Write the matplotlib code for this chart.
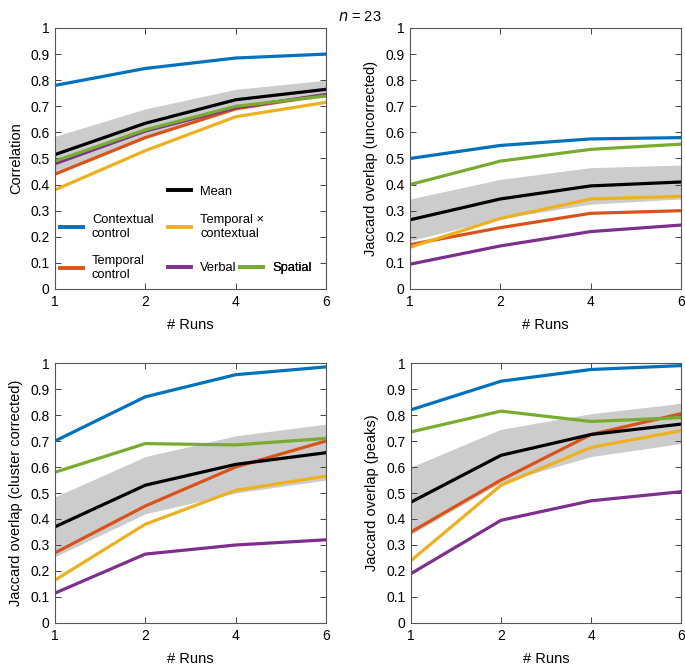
import numpy as np
import matplotlib
matplotlib.use("Agg")
import matplotlib.pyplot as plt
from matplotlib.lines import Line2D

plt.rcParams['font.family'] = ['Liberation Sans', 'DejaVu Sans']

runs = ["1", "2", "4", "6"]
ylabels = ["Correlation", "Jaccard overlap (uncorrected)",
           "Jaccard overlap (cluster corrected)", "Jaccard overlap (peaks)"]

# one row per panel
contextual = [[0.78, 0.845, 0.885, 0.90],
              [0.50, 0.55, 0.575, 0.58],
              [0.70, 0.87, 0.955, 0.985],
              [0.82, 0.93, 0.975, 0.99]]
temporal = [[0.44, 0.58, 0.69, 0.745],
            [0.17, 0.235, 0.29, 0.30],
            [0.27, 0.45, 0.60, 0.70],
            [0.35, 0.55, 0.725, 0.805]]
temp_ctx = [[0.38, 0.53, 0.66, 0.715],
            [0.16, 0.27, 0.345, 0.355],
            [0.165, 0.38, 0.51, 0.565],
            [0.24, 0.53, 0.675, 0.74]]
verbal = [[0.48, 0.605, 0.695, 0.745],
          [0.095, 0.165, 0.22, 0.245],
          [0.115, 0.265, 0.30, 0.32],
          [0.19, 0.395, 0.47, 0.505]]
spatial = [[0.49, 0.61, 0.70, 0.74],
           [0.40, 0.49, 0.535, 0.555],
           [0.58, 0.69, 0.685, 0.71],
           [0.735, 0.815, 0.775, 0.79]]
mean = [[0.515, 0.635, 0.725, 0.765],
        [0.265, 0.345, 0.395, 0.41],
        [0.37, 0.53, 0.61, 0.655],
        [0.465, 0.645, 0.725, 0.765]]
shade_hi = [[0.585, 0.69, 0.765, 0.80],
            [0.345, 0.42, 0.465, 0.475],
            [0.485, 0.64, 0.72, 0.765],
            [0.60, 0.745, 0.805, 0.845]]
shade_lo = [[0.45, 0.58, 0.69, 0.735],
            [0.185, 0.27, 0.325, 0.345],
            [0.255, 0.42, 0.50, 0.55],
            [0.34, 0.54, 0.64, 0.69]]

c_blue = '#0072BD'
c_red = '#D95319'
c_yel = '#EDB120'
c_pur = '#7E2F8E'
c_grn = '#77AC30'

fig = plt.figure(figsize=(6.85, 6.65), dpi=100)
W, H = 685, 665
boxes = [(55, 28, 326, 289), (410, 28, 681, 289),
         (55, 363, 326, 623), (411, 363, 681, 623)]

x = np.arange(len(runs))
for i, (l, t, r, b) in enumerate(boxes):
    ax = fig.add_axes([l / W, 1 - b / H, (r - l) / W, (b - t) / H])
    lw = 2.3
    ax.plot(x, contextual[i], color=c_blue, lw=lw)
    ax.plot(x, temporal[i], color=c_red, lw=lw)
    ax.plot(x, verbal[i], color=c_pur, lw=lw)
    ax.plot(x, temp_ctx[i], color=c_yel, lw=lw)
    ax.plot(x, spatial[i], color=c_grn, lw=lw)
    ax.fill_between(x, shade_lo[i], shade_hi[i], color='k', alpha=0.2, lw=0)
    ax.plot(x, mean[i], color='k', lw=lw)

    ax.set_xlim(0, 3)
    ax.set_ylim(0, 1)
    ax.set_xticks(x)
    ax.set_xticklabels(runs)
    yt = np.round(np.arange(0, 1.01, 0.1), 1)
    ax.set_yticks(yt)
    ax.set_yticklabels([f"{v:g}" for v in yt])
    ax.tick_params(direction='in', top=True, right=True, length=4,
                   width=0.7, color='#444444', labelsize=10, pad=4)
    for s in ax.spines.values():
        s.set_color('#555555')
        s.set_linewidth(0.8)
    ax.set_xlabel("# Runs", fontsize=10.5, labelpad=7)
    ax.set_ylabel(ylabels[i], fontsize=10.5, labelpad=5)

    if i == 0:
        entries = [('k', "Mean", 0.417, 0.372),
                   (c_blue, "Contextual\ncontrol", 0.018, 0.238),
                   (c_yel, "Temporal \u00d7\ncontextual", 0.417, 0.238),
                   (c_red, "Temporal\ncontrol", 0.018, 0.080),
                   (c_pur, "Verbal", 0.417, 0.080),
                   (c_grn, "Spatial", 0.683, 0.080)]
        for col, lab, ex, ey in entries:
            h = Line2D([], [], color=col, lw=2.8)
            leg = ax.legend(handles=[h], labels=[lab], loc='center left',
                            bbox_to_anchor=(ex, ey), frameon=False,
                            fontsize=9.3, handlelength=1.78,
                            handletextpad=0.7, borderaxespad=0,
                            borderpad=0)
            ax.add_artist(leg)

fig.text(0.525, 0.985, r"$n$ = 23", ha='center', va='top', fontsize=10.5)

fig.savefig("out.png", dpi=100)
